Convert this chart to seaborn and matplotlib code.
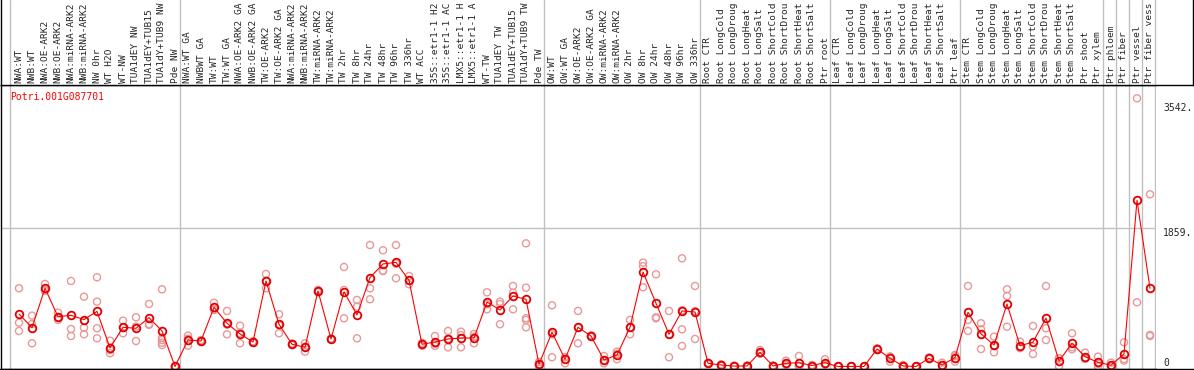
import numpy as np
import pandas as pd
import seaborn as sns
import matplotlib.pyplot as plt
from matplotlib.lines import Line2D

# sample names as printed on the chart (long ones cut at 14 chars)
samples = [
    "NWA:WT", "NWB:WT", "NWA:OE-ARK2", "NWB:OE-ARK2", "NWA:miRNA-ARK2", "NWB:miRNA-ARK2",
    "NW 0hr", "WT H2O", "WT-NW", "TUA1dEY NW", "TUA1dEY+TUB15", "TUA1dY+TUB9 NW", "Pde NW",
    "NWA:WT GA", "NWBWT GA", "TW:WT", "TW:WT GA", "NWA:OE-ARK2 GA", "NWB:OE-ARK2 GA",
    "TW:OE-ARK2", "TW:OE-ARK2 GA", "NWA:miRNA-ARK2", "NWB:miRNA-ARK2", "TW:miRNA-ARK2",
    "TW:miRNA-ARK2", "TW 2hr", "TW 8hr", "TW 24hr", "TW 48hr", "TW 96hr", "TW 336hr",
    "WT ACC", "35S::etr1-1 H2", "35S::etr1-1 AC", "LMX5::etr1-1 H", "LMX5::etr1-1 A",
    "WT-TW", "TUA1dEY TW", "TUA1dEY+TUB15", "TUA1dY+TUB9 TW", "Pde TW",
    "OW:WT", "OW:WT GA", "OW:OE-ARK2", "OW:OE-ARK2 GA", "OW:miRNA-ARK2", "OW:miRNA-ARK2",
    "OW 2hr", "OW 8hr", "OW 24hr", "OW 48hr", "OW 96hr", "OW 336hr",
    "Root CTR", "Root LongCold", "Root LongDroug", "Root LongHeat", "Root LongSalt",
    "Root ShortCold", "Root ShortDrou", "Root ShortHeat", "Root ShortSalt", "Ptr root",
    "Leaf CTR", "Leaf LongCold", "Leaf LongDroug", "Leaf LongHeat", "Leaf LongSalt",
    "Leaf ShortCold", "Leaf ShortDrou", "Leaf ShortHeat", "Leaf ShortSalt", "Ptr leaf",
    "Stem CTR", "Stem LongCold", "Stem LongDroug", "Stem LongHeat", "Stem LongSalt",
    "Stem ShortCold", "Stem ShortDrou", "Stem ShortHeat", "Stem ShortSalt", "Ptr shoot",
    "Ptr xylem", "Ptr phloem", "Ptr fiber", "Ptr vessel", "Ptr fiber vess",
]

# replicate values per sample
reps = [
    [1052, 589, 477], [684, 570, 312], [1110, 1029, 1017], [724, 660, 626],
    [1150, 504, 410], [939, 522, 433], [1200, 872, 514, 379], [347, 178, 222],
    [616, 447, 518], [662, 343, 537], [841, 560, 570], [1038, 356, 289, 320, 387],
    [0, 0, 0],
    [415, 280, 373], [343, 330, 356], [858, 770, 760], [747, 433, 563],
    [549, 312, 450], [320, 340, 330], [1244, 1052, 1154], [702, 447, 555],
    [299, 290, 308], [312, 199, 263], [1030, 1000, 1018], [370, 365, 375],
    [1338, 1029, 648], [895, 805, 379], [1634, 1052, 904], [1563, 1290, 1284],
    [1634, 1186, 1383], [1217, 1106, 1154], [299, 280, 318], [410, 276, 304],
    [478, 258, 374], [468, 258, 423], [437, 312, 400], [998, 769, 837],
    [872, 568, 840], [1083, 769, 992], [1657, 1060, 626, 527, 650], [30, 60, 0],
    [823, 124, 433], [43, 124, 124], [747, 312, 522], [410, 420, 400],
    [141, 43, 77], [199, 97, 169], [626, 433, 522], [1397, 1350, 1066],
    [1240, 662, 648], [747, 124, 428], [1455, 500, 276, 757], [1083, 370, 746],
    [43, 50, 36], [20, 30, 10], [5, 0, 10], [7, 0, 14], [222, 180, 171],
    [7, 0, 14], [78, 30, 21], [141, 7, 5], [13, 20, 6], [97, 30, 26],
    [0, 0, 0], [0, 0, 0], [0, 0, 0], [245, 225, 235], [65, 130, 135],
    [20, 0, 0], [0, 0, 0], [110, 120, 100], [51, 5, 4], [155, 65, 137],
    [1083, 626, 478], [581, 500, 235], [401, 191, 275], [1038, 948, 535],
    [334, 260, 246], [545, 266, 168], [1083, 514, 356], [0, 110, 112],
    [447, 231, 258], [186, 110, 100],
    [132, 0, 36], [51, 0, 0], [325, 100, 80], [3608, 864], [2316, 424, 410],
]

group_sizes = [13, 28, 12, 10, 10, 11, 1, 1, 1, 1]
gene = "Potri.001G087701"
tick_values = [3542, 1859, 0]
tick_labels = ["3542.", "1859.", "0"]

rows = []
for i, (s, vals) in enumerate(zip(samples, reps)):
    for v in vals:
        rows.append({"pos": i, "sample": s, "value": v})
df = pd.DataFrame(rows)

sns.set_style("white")
plt.rcParams["font.family"] = ["DejaVu Sans Mono", "DejaVu Sans"]

W, H = 1194, 370
step, x0 = 13, 19  # pixels per sample, pixel of first sample
fig = plt.figure(figsize=(W / 100, H / 100), dpi=100)
fig.patch.set_facecolor("white")

# main plot
ax = fig.add_axes([1 / W, 1 / H, 1155 / W, 284 / H])
ax.set_xlim((1 - x0) / step, (1156 - x0) / step)
ax.set_ylim(-34, 3787)

bounds = [-0.7] + list(np.cumsum(group_sizes) - 0.6)
for b in bounds:
    ax.axvline(b, color="#c0c0c0", lw=1, zorder=0)
ax.axhline(1859, color="#c0c0c0", lw=1, zorder=0)

sns.scatterplot(data=df, x="pos", y="value", ax=ax, marker="o", s=26,
                fc="none", ec="#e89898", linewidth=1.0, zorder=2, legend=False)
sns.lineplot(data=df, x="pos", y="value", ax=ax, estimator="mean", errorbar=None,
             color="red", lw=0.8, marker="o", ms=5.5, mfc="none", mec="#e00000",
             mew=1.3, zorder=3)

ax.set_xticks([])
ax.set_yticks([])
ax.set_xlabel("")
ax.set_ylabel("")
for side in ["left", "bottom", "top"]:
    ax.spines[side].set_color("black")
    ax.spines[side].set_linewidth(1)
ax.spines["right"].set_visible(False)

ax.text(9 / 1155, (369 - 97) / 284, gene, transform=ax.transAxes, color="red",
        fontsize=7, va="center", ha="left")

for v, lab in zip(tick_values, tick_labels):
    ax.text((1163 - x0) / step, v, lab, fontsize=7, ha="left",
            va="baseline" if v == 0 else "top", clip_on=False)

# header with sample names
hx = fig.add_axes([1 / W, 285 / H, 1192 / W, 85 / H])
hx.set_xlim((1 - x0) / step, (1193 - x0) / step)
hx.set_ylim(0, 85)
for b in bounds:
    hx.axvline(b, color="#c0c0c0", lw=1, zorder=0)
for i, s in enumerate(samples):
    hx.text(i, 2, s, rotation=90, ha="center", va="bottom", fontsize=6.8)
hx.set_xticks([])
hx.set_yticks([])
hx.spines["top"].set_visible(False)
for side in ["left", "right", "bottom"]:
    hx.spines[side].set_color("black")
    hx.spines[side].set_linewidth(1)

fig.add_artist(Line2D([0, 1], [1 / H, 1 / H], color="black", lw=1,
                      transform=fig.transFigure))

fig.savefig("out.png", dpi=100)
